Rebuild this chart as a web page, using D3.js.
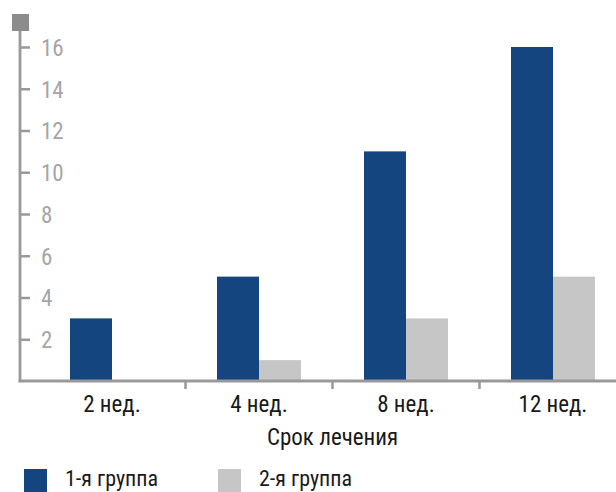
<!DOCTYPE html>
<html><head><meta charset="utf-8">
<script src="https://cdn.jsdelivr.net/npm/d3@7"></script>
<style>
body{margin:0;background:#fff}
text{font-family:"Liberation Sans Narrow","Roboto Condensed","Arial Narrow",sans-serif;font-stretch:condensed}
</style></head>
<body><svg id="c" width="616" height="492"></svg>
<script>
const categories = ["2 нед.", "4 нед.", "8 нед.", "12 нед."];
const seriesNames = ["1-я группа", "2-я группа"];
const group1 = [3, 5, 11, 16];
const group2 = [0, 1, 3, 5];
const yTicks = [2, 4, 6, 8, 10, 12, 14, 16];
const xTitle = "Срок лечения";
const colors = ["#15457f", "#c6c6c6"];

const svg = d3.select("#c");
const axisColor = "#999";
const x0 = 20, y0 = 381;

const x = d3.scaleBand().domain(categories).range([38.5, 626.5]).padding(0);
const x1 = d3.scaleBand().domain(seriesNames).range([0, x.bandwidth()]).paddingInner(0).paddingOuter(0.75);
const y = d3.scaleLinear().domain([0, 16]).range([y0, 47]);

const data = categories.map((c, i) => ({cat: c, vals: [group1[i], group2[i]]}));

// bars
const g = svg.append("g");
data.forEach(d => {
  d.vals.forEach((v, j) => {
    if (v <= 0) return;
    g.append("rect")
      .attr("x", x(d.cat) + x1(seriesNames[j]))
      .attr("y", y(v))
      .attr("width", x1.bandwidth())
      .attr("height", y(0) - y(v))
      .attr("fill", colors[j]);
  });
});

// y axis
const ya = svg.append("g").attr("transform", `translate(${x0},0)`)
  .call(d3.axisRight(y).tickValues(yTicks).tickSize(10).tickPadding(11));
ya.select(".domain").remove();
ya.selectAll(".tick line").attr("stroke", axisColor).attr("stroke-width", 2.5);
ya.selectAll(".tick text").attr("fill", "#a6a6a6").style("font-size", "23px").attr("dy", "0.36em");
svg.append("line").attr("x1", x0).attr("x2", x0).attr("y1", 30).attr("y2", y0 + 1.2)
  .attr("stroke", axisColor).attr("stroke-width", 2.8);
svg.append("rect").attr("x", 12).attr("y", 14).attr("width", 17).attr("height", 17).attr("fill", "#8c8c8c");

// x axis
svg.append("line").attr("x1", x0 - 1.4).attr("x2", 616).attr("y1", y0).attr("y2", y0)
  .attr("stroke", axisColor).attr("stroke-width", 2.8);
categories.slice(1).forEach(c => {
  svg.append("line").attr("x1", x(c)).attr("x2", x(c)).attr("y1", y0).attr("y2", y0 + 8)
    .attr("stroke", axisColor).attr("stroke-width", 2.5);
});
svg.append("g").selectAll("text").data(categories).join("text")
  .attr("x", d => x(d) + x.bandwidth() / 2).attr("y", 412)
  .attr("text-anchor", "middle").attr("fill", "#1a1a1a").style("font-size", "23px")
  .text(d => d);
svg.append("text").attr("x", (x.range()[0] + x.range()[1]) / 2).attr("y", 445)
  .attr("text-anchor", "middle").attr("fill", "#1a1a1a").style("font-size", "23px").text(xTitle);

// legend
const legX = [24, 218];
seriesNames.forEach((s, i) => {
  svg.append("rect").attr("x", legX[i]).attr("y", 469).attr("width", 23).attr("height", 23).attr("fill", colors[i]);
  svg.append("text").attr("x", legX[i] + 41).attr("y", 486).attr("fill", "#1a1a1a").style("font-size", "22px").text(s);
});
</script></body></html>
